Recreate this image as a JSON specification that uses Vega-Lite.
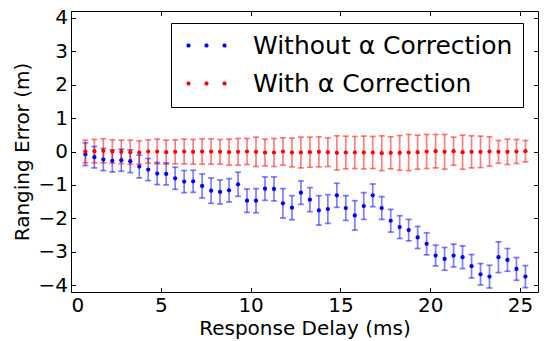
{
  "$schema": "https://vega.github.io/schema/vega-lite/v6.json",
  "autosize": {"type": "none"},
  "width": 467,
  "height": 281,
  "padding": {"left": 71, "top": 11, "right": 9, "bottom": 49},
  "background": "white",
  "datasets": {
    "d": [
      {"s":"A","x":0.8,"y":-0.08,"lo":-0.42,"hi":0.26},
      {"s":"A","x":1.3,"y":-0.17,"lo":-0.49,"hi":0.15},
      {"s":"A","x":1.8,"y":-0.24,"lo":-0.57,"hi":0.09},
      {"s":"A","x":2.3,"y":-0.28,"lo":-0.61,"hi":0.05},
      {"s":"A","x":2.8,"y":-0.26,"lo":-0.59,"hi":0.07},
      {"s":"A","x":3.3,"y":-0.29,"lo":-0.63,"hi":0.05},
      {"s":"A","x":3.8,"y":-0.45,"lo":-0.79,"hi":-0.11},
      {"s":"A","x":4.3,"y":-0.54,"lo":-0.87,"hi":-0.21},
      {"s":"A","x":4.8,"y":-0.66,"lo":-0.99,"hi":-0.33},
      {"s":"A","x":5.3,"y":-0.67,"lo":-1.00,"hi":-0.34},
      {"s":"A","x":5.8,"y":-0.80,"lo":-1.13,"hi":-0.47},
      {"s":"A","x":6.3,"y":-0.90,"lo":-1.23,"hi":-0.57},
      {"s":"A","x":6.8,"y":-0.89,"lo":-1.22,"hi":-0.56},
      {"s":"A","x":7.3,"y":-1.03,"lo":-1.39,"hi":-0.67},
      {"s":"A","x":7.8,"y":-1.17,"lo":-1.55,"hi":-0.79},
      {"s":"A","x":8.3,"y":-1.21,"lo":-1.57,"hi":-0.85},
      {"s":"A","x":8.8,"y":-1.16,"lo":-1.51,"hi":-0.81},
      {"s":"A","x":9.3,"y":-0.98,"lo":-1.34,"hi":-0.62},
      {"s":"A","x":9.8,"y":-1.47,"lo":-1.82,"hi":-1.12},
      {"s":"A","x":10.3,"y":-1.47,"lo":-1.83,"hi":-1.11},
      {"s":"A","x":10.8,"y":-1.11,"lo":-1.46,"hi":-0.76},
      {"s":"A","x":11.3,"y":-1.12,"lo":-1.48,"hi":-0.76},
      {"s":"A","x":11.8,"y":-1.55,"lo":-1.99,"hi":-1.11},
      {"s":"A","x":12.3,"y":-1.68,"lo":-2.04,"hi":-1.32},
      {"s":"A","x":12.8,"y":-1.23,"lo":-1.58,"hi":-0.88},
      {"s":"A","x":13.3,"y":-1.44,"lo":-1.80,"hi":-1.08},
      {"s":"A","x":13.8,"y":-1.76,"lo":-2.20,"hi":-1.32},
      {"s":"A","x":14.3,"y":-1.72,"lo":-2.15,"hi":-1.29},
      {"s":"A","x":14.8,"y":-1.31,"lo":-1.67,"hi":-0.95},
      {"s":"A","x":15.3,"y":-1.69,"lo":-2.06,"hi":-1.32},
      {"s":"A","x":15.8,"y":-1.91,"lo":-2.35,"hi":-1.47},
      {"s":"A","x":16.3,"y":-1.63,"lo":-2.03,"hi":-1.23},
      {"s":"A","x":16.8,"y":-1.31,"lo":-1.65,"hi":-0.97},
      {"s":"A","x":17.3,"y":-1.69,"lo":-2.03,"hi":-1.35},
      {"s":"A","x":17.8,"y":-2.07,"lo":-2.41,"hi":-1.73},
      {"s":"A","x":18.3,"y":-2.26,"lo":-2.60,"hi":-1.92},
      {"s":"A","x":18.8,"y":-2.35,"lo":-2.67,"hi":-2.03},
      {"s":"A","x":19.3,"y":-2.57,"lo":-2.90,"hi":-2.24},
      {"s":"A","x":19.8,"y":-2.76,"lo":-3.09,"hi":-2.43},
      {"s":"A","x":20.3,"y":-3.11,"lo":-3.42,"hi":-2.80},
      {"s":"A","x":20.8,"y":-3.21,"lo":-3.55,"hi":-2.87},
      {"s":"A","x":21.3,"y":-3.11,"lo":-3.45,"hi":-2.77},
      {"s":"A","x":21.8,"y":-3.16,"lo":-3.50,"hi":-2.82},
      {"s":"A","x":22.3,"y":-3.43,"lo":-3.78,"hi":-3.08},
      {"s":"A","x":22.8,"y":-3.67,"lo":-3.99,"hi":-3.35},
      {"s":"A","x":23.3,"y":-3.74,"lo":-4.08,"hi":-3.40},
      {"s":"A","x":23.8,"y":-3.16,"lo":-3.62,"hi":-2.70},
      {"s":"A","x":24.3,"y":-3.24,"lo":-3.58,"hi":-2.90},
      {"s":"A","x":24.8,"y":-3.51,"lo":-3.85,"hi":-3.17},
      {"s":"A","x":25.3,"y":-3.74,"lo":-4.07,"hi":-3.41},
      {"s":"B","x":0.8,"y":0.0,"lo":-0.34,"hi":0.34},
      {"s":"B","x":1.3,"y":0.01,"lo":-0.34,"hi":0.36},
      {"s":"B","x":1.8,"y":0.02,"lo":-0.34,"hi":0.38},
      {"s":"B","x":2.3,"y":0.0,"lo":-0.35,"hi":0.35},
      {"s":"B","x":2.8,"y":-0.01,"lo":-0.36,"hi":0.34},
      {"s":"B","x":3.3,"y":-0.02,"lo":-0.38,"hi":0.34},
      {"s":"B","x":3.8,"y":-0.03,"lo":-0.38,"hi":0.32},
      {"s":"B","x":4.3,"y":0.0,"lo":-0.35,"hi":0.35},
      {"s":"B","x":4.8,"y":0.0,"lo":-0.37,"hi":0.37},
      {"s":"B","x":5.3,"y":-0.02,"lo":-0.38,"hi":0.34},
      {"s":"B","x":5.8,"y":-0.01,"lo":-0.37,"hi":0.35},
      {"s":"B","x":6.3,"y":0.0,"lo":-0.37,"hi":0.37},
      {"s":"B","x":6.8,"y":-0.01,"lo":-0.38,"hi":0.36},
      {"s":"B","x":7.3,"y":0.0,"lo":-0.38,"hi":0.38},
      {"s":"B","x":7.8,"y":0.0,"lo":-0.38,"hi":0.38},
      {"s":"B","x":8.3,"y":-0.01,"lo":-0.38,"hi":0.36},
      {"s":"B","x":8.8,"y":-0.02,"lo":-0.41,"hi":0.37},
      {"s":"B","x":9.3,"y":-0.01,"lo":-0.41,"hi":0.39},
      {"s":"B","x":9.8,"y":0.0,"lo":-0.39,"hi":0.39},
      {"s":"B","x":10.3,"y":-0.01,"lo":-0.45,"hi":0.43},
      {"s":"B","x":10.8,"y":-0.03,"lo":-0.43,"hi":0.37},
      {"s":"B","x":11.3,"y":-0.03,"lo":-0.45,"hi":0.39},
      {"s":"B","x":11.8,"y":0.0,"lo":-0.41,"hi":0.41},
      {"s":"B","x":12.3,"y":-0.03,"lo":-0.46,"hi":0.40},
      {"s":"B","x":12.8,"y":-0.03,"lo":-0.49,"hi":0.43},
      {"s":"B","x":13.3,"y":-0.02,"lo":-0.47,"hi":0.43},
      {"s":"B","x":13.8,"y":-0.01,"lo":-0.46,"hi":0.44},
      {"s":"B","x":14.3,"y":-0.02,"lo":-0.45,"hi":0.41},
      {"s":"B","x":14.8,"y":-0.04,"lo":-0.55,"hi":0.47},
      {"s":"B","x":15.3,"y":-0.03,"lo":-0.52,"hi":0.46},
      {"s":"B","x":15.8,"y":-0.03,"lo":-0.51,"hi":0.45},
      {"s":"B","x":16.3,"y":-0.03,"lo":-0.52,"hi":0.46},
      {"s":"B","x":16.8,"y":-0.03,"lo":-0.51,"hi":0.45},
      {"s":"B","x":17.3,"y":-0.05,"lo":-0.57,"hi":0.47},
      {"s":"B","x":17.8,"y":-0.04,"lo":-0.52,"hi":0.44},
      {"s":"B","x":18.3,"y":-0.04,"lo":-0.56,"hi":0.48},
      {"s":"B","x":18.8,"y":-0.03,"lo":-0.57,"hi":0.51},
      {"s":"B","x":19.3,"y":-0.02,"lo":-0.53,"hi":0.49},
      {"s":"B","x":19.8,"y":0.0,"lo":-0.51,"hi":0.51},
      {"s":"B","x":20.3,"y":0.01,"lo":-0.49,"hi":0.51},
      {"s":"B","x":20.8,"y":-0.01,"lo":-0.53,"hi":0.51},
      {"s":"B","x":21.3,"y":0.01,"lo":-0.41,"hi":0.43},
      {"s":"B","x":21.8,"y":-0.02,"lo":-0.53,"hi":0.49},
      {"s":"B","x":22.3,"y":-0.01,"lo":-0.49,"hi":0.47},
      {"s":"B","x":22.8,"y":-0.01,"lo":-0.48,"hi":0.46},
      {"s":"B","x":23.3,"y":0.0,"lo":-0.44,"hi":0.44},
      {"s":"B","x":23.8,"y":-0.01,"lo":-0.35,"hi":0.33},
      {"s":"B","x":24.3,"y":-0.01,"lo":-0.39,"hi":0.37},
      {"s":"B","x":24.8,"y":0.0,"lo":-0.36,"hi":0.36},
      {"s":"B","x":25.3,"y":0.01,"lo":-0.31,"hi":0.33}
    ]
  },
  "data": {"name": "d"},
  "layer": [
    {
      "mark": {"type": "rule", "opacity": 0.5, "strokeWidth": 1.7},
      "encoding": {
        "x": {"field": "x", "type": "quantitative", "scale": {"domain": [0, 26], "nice": false, "zero": false},
              "axis": {"orient": "bottom", "values": [0, 5, 10, 15, 20, 25], "title": "Response Delay (ms)", "labelPadding": 8, "titlePadding": 3}},
        "y": {"field": "lo", "type": "quantitative", "scale": {"domain": [-4.2, 4.2], "nice": false, "zero": false},
              "axis": {"orient": "left", "values": [-4, -3, -2, -1, 0, 1, 2, 3, 4], "title": "Ranging Error (m)", "labelPadding": 8, "titlePadding": 6}},
        "y2": {"field": "hi"},
        "stroke": {"field": "s", "type": "nominal", "scale": {"range": ["#0000ff", "#ff0000"]}, "legend": null}
      }
    },
    {
      "mark": {"type": "tick", "orient": "horizontal", "opacity": 0.5, "thickness": 1.7, "size": 6},
      "encoding": {
        "x": {"field": "x", "type": "quantitative", "axis": null},
        "y": {"field": "lo", "type": "quantitative", "axis": null},
        "fill": {"field": "s", "type": "nominal", "scale": {"range": ["#0000ff", "#ff0000"]}, "legend": null}
      }
    },
    {
      "mark": {"type": "tick", "orient": "horizontal", "opacity": 0.5, "thickness": 1.7, "size": 6},
      "encoding": {
        "x": {"field": "x", "type": "quantitative", "axis": null},
        "y": {"field": "hi", "type": "quantitative", "axis": null},
        "fill": {"field": "s", "type": "nominal", "legend": null}
      }
    },
    {
      "mark": {"type": "point", "filled": true, "opacity": 1, "size": 18},
      "encoding": {
        "x": {"field": "x", "type": "quantitative",
              "axis": {"orient": "top", "values": [0, 5, 10, 15, 20, 25], "labels": false, "title": null}},
        "y": {"field": "y", "type": "quantitative",
              "axis": {"orient": "right", "values": [-4, -3, -2, -1, 0, 1, 2, 3, 4], "labels": false, "title": null}},
        "color": {"field": "s", "type": "nominal", "scale": {"domain": ["A", "B"], "range": ["#0000ff", "#ff0000"]},
                  "legend": {
                    "orient": "none", "legendX": 100, "legendY": 12, "title": null,
                    "labelExpr": "datum.label == 'A' ? 'Without α Correction' : 'With α Correction'",
                    "symbolType": "M-1.67,-0.07L-1.57,-0.17L-1.43,-0.17L-1.33,-0.07L-1.33,0.07L-1.43,0.17L-1.57,0.17L-1.67,0.07ZM-0.17,-0.07L-0.07,-0.17L0.07,-0.17L0.17,-0.07L0.17,0.07L0.07,0.17L-0.07,0.17L-0.17,0.07ZM1.33,-0.07L1.43,-0.17L1.57,-0.17L1.67,-0.07L1.67,0.07L1.57,0.17L1.43,0.17L1.33,0.07Z",
                    "symbolSize": 576, "symbolOffset": 13, "symbolStrokeWidth": 0, "symbolOpacity": 1,
                    "labelOffset": 34, "labelFontSize": 25, "labelFont": "DejaVu Sans", "labelColor": "black", "labelLimit": 0,
                    "padding": 10, "rowPadding": 12, "strokeColor": "black", "fillColor": "white", "cornerRadius": 0
                  }}
      }
    }
  ],
  "resolve": {"axis": {"x": "independent", "y": "independent"}},
  "config": {
    "view": {"stroke": "black", "strokeWidth": 1},
    "font": "DejaVu Sans",
    "axis": {
      "domain": false, "grid": false, "tickSize": -4.5, "tickColor": "black", "tickWidth": 1,
      "labelFont": "DejaVu Sans", "labelFontSize": 20, "labelColor": "black",
      "titleFont": "DejaVu Sans", "titleFontSize": 20, "titleFontWeight": "normal", "titleColor": "black"
    }
  }
}
